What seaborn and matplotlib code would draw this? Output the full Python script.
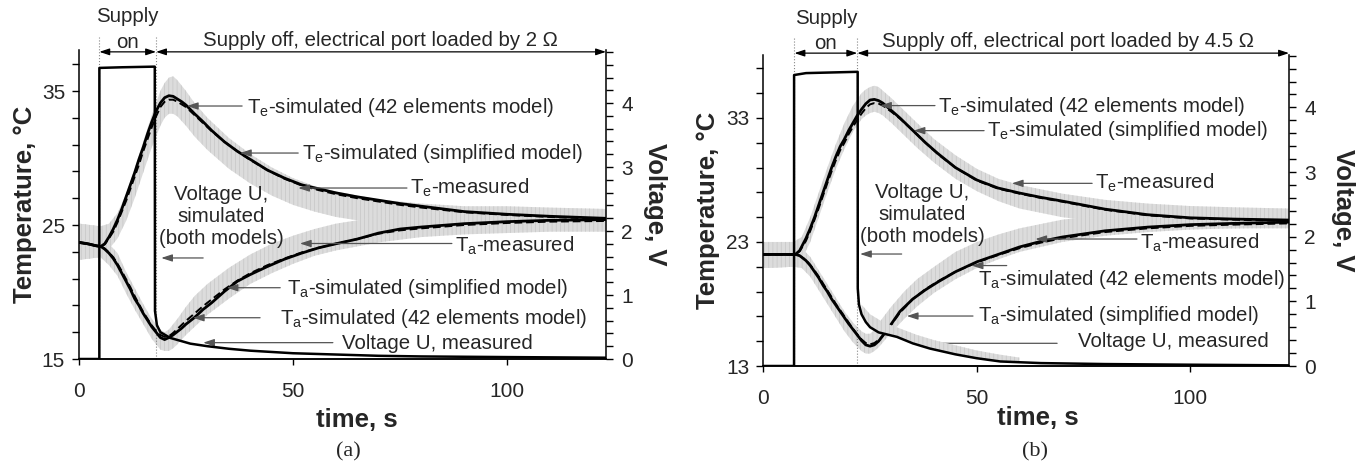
"""
Two-panel thermal transient chart: electrode/ambient temperatures and port voltage.
"""

import matplotlib
matplotlib.use("Agg")
import matplotlib.pyplot as plt
import matplotlib.transforms as mtransforms
from matplotlib.ticker import FixedLocator, MultipleLocator
import seaborn as sns

# ---------------- panel (a): 2 ohm load ----------------
t_sim_a = [0, 2, 4, 5.1, 6, 7, 8, 9, 10, 11, 12, 13, 14, 15, 16, 17, 18, 19, 20, 21,
           22, 23, 24, 25, 27, 29, 31, 34, 37, 40, 44, 48, 52, 56, 60, 65, 70, 75, 80,
           90, 100, 110, 123]
te42_a = [23.7, 23.6, 23.45, 23.4, 23.6, 24.1, 24.7, 25.4, 26.2, 27.1, 28.0, 28.9, 29.9,
          30.8, 31.8, 32.7, 33.5, 34.1, 34.5, 34.65, 34.6, 34.4, 34.2, 33.95, 33.3, 32.7,
          32.05, 31.2, 30.5, 29.9, 29.1, 28.5, 28.0, 27.7, 27.4, 27.1, 26.85, 26.6, 26.4,
          26.0, 25.8, 25.65, 25.5]
tesimp_a = [23.7, 23.6, 23.45, 23.4, 23.55, 24.0, 24.5, 25.2, 26.0, 26.8, 27.7, 28.6, 29.5,
            30.5, 31.4, 32.3, 33.1, 33.8, 34.2, 34.35, 34.35, 34.2, 34.0, 33.8, 33.2, 32.6,
            32.0, 31.2, 30.5, 29.85, 29.1, 28.45, 27.95, 27.6, 27.3, 27.0, 26.75, 26.5,
            26.3, 25.95, 25.75, 25.6, 25.45]
ta42_a = [23.7, 23.6, 23.45, 23.4, 23.2, 22.9, 22.5, 22.0, 21.4, 20.8, 20.2, 19.5, 19.0,
          18.4, 17.9, 17.4, 17.0, 16.6, 16.45, 16.6, 16.8, 17.05, 17.3, 17.6, 18.1, 18.7,
          19.2, 20.05, 20.8, 21.3, 21.9, 22.45, 22.9, 23.3, 23.6, 23.95, 24.4, 24.7, 24.85,
          25.1, 25.25, 25.35, 25.4]
tasimp_a = [23.7, 23.6, 23.45, 23.4, 23.25, 22.95, 22.6, 22.1, 21.55, 20.95, 20.35, 19.7,
            19.1, 18.5, 18.0, 17.5, 17.1, 16.8, 16.65, 16.7, 16.95, 17.25, 17.55, 17.85,
            18.4, 18.95, 19.45, 20.2, 20.85, 21.4, 22.0, 22.5, 22.95, 23.3, 23.6, 23.95,
            24.35, 24.6, 24.75, 25.0, 25.15, 25.25, 25.3]

t_meas_a = [0, 5, 7, 9, 11, 13, 15, 17, 19, 20, 21, 22, 23, 25, 27, 30, 35, 40, 45, 50,
            55, 60, 70, 80, 90, 100, 110, 123]
te_lo_a = [22.4, 22.6, 23.2, 24.0, 25.3, 27.0, 28.9, 30.8, 32.4, 33.0, 33.3, 33.3, 33.1,
           32.4, 31.6, 30.6, 29.2, 28.1, 27.2, 26.5, 26.0, 25.6, 25.1, 24.9, 24.8, 24.7,
           24.7, 24.7]
te_hi_a = [25.1, 24.9, 25.1, 25.9, 27.3, 29.2, 31.2, 33.2, 35.0, 35.6, 36.0, 36.1, 35.8,
           35.0, 34.1, 33.0, 31.5, 30.3, 29.3, 28.5, 27.9, 27.5, 26.9, 26.6, 26.4, 26.4,
           26.3, 26.2]
ta_lo_a = [22.4, 22.6, 22.0, 21.2, 19.9, 18.7, 17.6, 16.5, 15.7, 15.6, 15.6, 15.8, 16.1,
           16.8, 17.4, 18.3, 19.5, 20.6, 21.4, 22.1, 22.7, 23.1, 23.7, 24.1, 24.3, 24.4,
           24.5, 24.5]
ta_hi_a = [25.1, 24.9, 23.6, 22.9, 21.5, 20.3, 19.1, 18.0, 17.2, 17.0, 17.2, 17.6, 18.0,
           18.9, 19.7, 20.6, 21.8, 22.8, 23.6, 24.2, 24.7, 25.1, 25.6, 25.9, 26.0, 26.1,
           26.1, 26.1]

t_volt_a = [0, 4.75, 4.76, 10, 17.7, 17.75, 18.2, 19, 21.3, 26, 30, 35, 40, 50, 60, 70,
            80, 100, 123]
volt_a = [0, 0, 4.55, 4.56, 4.57, 0.75, 0.53, 0.42, 0.33, 0.24, 0.2, 0.16, 0.13, 0.09,
          0.07, 0.05, 0.04, 0.03, 0.02]

# ---------------- panel (b): 4.5 ohm load ----------------
t_sim_b = [0, 4, 7.5, 8.5, 10, 11, 12, 13, 14, 15, 16, 17, 18, 19, 20, 21, 22, 23, 24, 25,
           26, 27, 28, 30, 32, 35, 38, 41, 45, 50, 55, 60, 65, 70, 80, 90, 100, 110, 123]
te42_b = [22.0, 22.0, 22.0, 22.3, 23.3, 24.1, 25.0, 26.0, 27.0, 28.0, 29.0, 29.9, 30.7,
          31.3, 32.0, 32.6, 33.2, 33.7, 34.15, 34.45, 34.5, 34.4, 34.2, 33.6, 33.0, 32.0,
          31.0, 30.1, 29.0, 28.0, 27.35, 26.95, 26.6, 26.3, 25.65, 25.2, 24.95, 24.85, 24.77]
tesimp_b = [22.0, 22.0, 22.0, 22.25, 23.1, 23.9, 24.8, 25.75, 26.75, 27.75, 28.7, 29.6,
            30.4, 31.0, 31.7, 32.3, 32.85, 33.35, 33.8, 34.1, 34.2, 34.15, 34.0, 33.5,
            32.95, 32.0, 31.0, 30.05, 29.0, 27.95, 27.3, 26.9, 26.55, 26.25, 25.6, 25.15,
            24.9, 24.8, 24.7]
ta42_b = [22.0, 22.0, 22.0, 21.9, 21.5, 21.1, 20.6, 20.1, 19.5, 19.0, 18.4, 17.9, 17.4,
          16.9, 16.4, 15.95, 15.5, 15.05, 14.7, 14.6, 14.7, 15.0, 15.45, 16.4, 17.4, 18.4,
          19.15, 19.8, 20.6, 21.4, 22.0, 22.6, 23.05, 23.4, 23.9, 24.2, 24.4, 24.5, 24.6]
tasimp_b = [22.0, 22.0, 22.0, 21.9, 21.55, 21.15, 20.7, 20.2, 19.65, 19.1, 18.55, 18.0,
            17.5, 17.0, 16.5, 16.0, 15.55, 15.15, 14.85, 14.75, 14.85, 15.1, 15.45, 16.35,
            17.3, 18.4, 19.2, 19.85, 20.6, 21.35, 21.95, 22.5, 22.95, 23.3, 23.8, 24.1,
            24.3, 24.4, 24.5]

t_meas_b = [0, 7, 9, 11, 13, 15, 17, 19, 21, 23, 24, 25, 26, 27, 28, 30, 33, 36, 40, 45,
            50, 55, 60, 70, 80, 90, 100, 110, 123]
te_lo_b = [20.9, 21.0, 21.6, 23.0, 25.0, 27.0, 28.9, 30.5, 31.9, 32.9, 33.2, 33.4, 33.5,
           33.4, 33.2, 32.6, 31.6, 30.6, 29.4, 28.1, 27.1, 26.3, 25.7, 25.0, 24.6, 24.3,
           24.2, 24.1, 24.1]
te_hi_b = [23.0, 23.0, 23.4, 25.0, 27.0, 29.0, 30.9, 32.6, 34.0, 35.0, 35.3, 35.5, 35.6,
           35.5, 35.2, 34.6, 33.6, 32.6, 31.3, 30.0, 28.9, 28.1, 27.6, 26.9, 26.4, 26.1,
           25.9, 25.8, 25.7]
ta_lo_b = [20.9, 21.0, 20.9, 20.2, 19.1, 18.0, 16.9, 15.8, 14.9, 14.2, 14.0, 14.0, 14.2,
           14.5, 14.9, 15.7, 16.8, 17.8, 18.9, 20.0, 20.9, 21.6, 22.2, 23.0, 23.5, 23.8,
           24.0, 24.1, 24.2]
ta_hi_b = [23.0, 23.0, 22.5, 21.8, 20.7, 19.6, 18.5, 17.4, 16.5, 15.8, 15.6, 15.6, 15.9,
           16.4, 16.9, 17.8, 19.0, 20.0, 21.0, 22.2, 23.0, 23.6, 24.1, 24.8, 25.2, 25.4,
           25.5, 25.6, 25.6]

t_volt_b = [0, 7.2, 7.21, 10, 22.1, 22.12, 22.4, 23, 24, 25, 27, 31.3, 35, 39, 45, 50,
            55.5, 65, 80, 100, 123]
volt_b = [0, 0, 4.5, 4.53, 4.55, 1.2, 0.95, 0.8, 0.68, 0.6, 0.52, 0.45, 0.35, 0.27, 0.18,
          0.12, 0.07, 0.045, 0.03, 0.02, 0.01]
t_vmeas_b = [23, 25, 28, 32, 36, 40, 45, 50, 55, 60]
v_lo_b = [0.8, 0.6, 0.5, 0.44, 0.34, 0.26, 0.18, 0.12, 0.08, 0.06]
v_hi_b = [0.95, 0.8, 0.68, 0.58, 0.48, 0.4, 0.32, 0.24, 0.18, 0.13]

sns.set_theme(style="ticks")
plt.rcParams["font.family"] = ["Liberation Sans", "DejaVu Sans"]
plt.rcParams["mathtext.fontset"] = "custom"
plt.rcParams["mathtext.rm"] = "Liberation Sans"
plt.rcParams["mathtext.default"] = "regular"
plt.rcParams["hatch.linewidth"] = 0.5

BAND = "#dcdcdc"
HATCH = "#c6c6c6"
TXT = 14.7


def band(ax, t, lo, hi):
    ax.fill_between(t, lo, hi, facecolor=BAND, edgecolor=HATCH, hatch="||||",
                    linewidth=0, zorder=1)


def note(ax, text, xy_text, start, tip, ha="left"):
    ax.text(xy_text[0], xy_text[1], text, ha=ha, va="center", fontsize=TXT,
            linespacing=1.2, zorder=5)
    ax.annotate("", xy=tip, xytext=start,
                arrowprops=dict(arrowstyle="-|>,head_length=0.55,head_width=0.18",
                                color="#555555", lw=0.9, shrinkA=0, shrinkB=0,
                                mutation_scale=12), zorder=5)


def panel(ax, d, ylim, ymaj, vtop, switch, load, supply_pos, notes, label_pos, vband=None):
    band(ax, d["tm"], d["te_lo"], d["te_hi"])
    band(ax, d["tm"], d["ta_lo"], d["ta_hi"])
    for y, ls, lw in [(d["te42"], "-", 2.0), (d["ta42"], "-", 2.0),
                      (d["tesimp"], (0, (4, 2)), 1.4), (d["tasimp"], (0, (4, 2)), 1.4)]:
        sns.lineplot(x=d["ts"], y=y, ax=ax, color="black", lw=lw, linestyle=ls,
                     estimator=None, sort=False, zorder=3)
    ax.set_xlim(0, 123.1)
    ax.set_ylim(*ylim)
    ax.set_xticks([0, 50, 100])
    ax.set_yticks(ymaj)
    ax.yaxis.set_minor_locator(FixedLocator(list(range(ymaj[0], int(ylim[1]) + 1, 2))))

    ax2 = ax.twinx()
    if vband is not None:
        ax2.fill_between(vband[0], vband[1], vband[2], facecolor=BAND, edgecolor=HATCH,
                         hatch="||||", linewidth=0, zorder=1)
    sns.lineplot(x=d["tv"], y=d["v"], ax=ax2, color="black", lw=1.8,
                 estimator=None, sort=False, zorder=3)
    ax2.set_ylim(0, vtop)
    ax2.set_yticks([0, 1, 2, 3, 4])
    ax2.yaxis.set_minor_locator(MultipleLocator(0.2))

    for a in (ax, ax2):
        a.spines["top"].set_visible(False)
        for s in a.spines.values():
            s.set_linewidth(1.1)
            s.set_color("black")
    ax2.spines["left"].set_visible(False)
    ax.spines["right"].set_visible(False)
    ax.tick_params(axis="y", which="both", direction="out", length=5, width=1,
                   labelsize=15, pad=5, color="black")
    ax.tick_params(axis="x", which="both", direction="out", length=4.5, width=1,
                   labelsize=15, pad=12, color="black")
    ax2.tick_params(axis="y", which="both", direction="out", length=5, width=1,
                    labelsize=15, pad=6, color="black")

    ax.set_xlabel("time, s", fontsize=18.5, fontweight="bold")
    ax.set_ylabel("Temperature, °C", fontsize=18.5, fontweight="bold")
    ax2.set_ylabel("Voltage, V", fontsize=18.5, fontweight="bold", rotation=-90)
    ax.xaxis.set_label_coords(label_pos[0], label_pos[1])
    ax.xaxis.label.set_va("center")
    ax.yaxis.set_label_coords(label_pos[2], 0.5)
    ax.yaxis.label.set_va("center")
    ax2.yaxis.set_label_coords(label_pos[3], 0.5)
    ax2.yaxis.label.set_va("center")

    # supply on / off markers above the plot
    tr = mtransforms.blended_transform_factory(ax.transData, ax.transAxes)
    for t in switch:
        ax.plot([t, t], [0, supply_pos[4]], transform=tr, ls=":", lw=0.8,
                color="#888888", clip_on=False, zorder=2)
    arr = dict(arrowstyle="<|-|>,head_length=0.6,head_width=0.2", color="black",
               lw=0.9, shrinkA=0, shrinkB=0, mutation_scale=10)
    ya = supply_pos[3]
    ax.annotate("", xy=(switch[0], ya), xytext=(switch[1], ya), xycoords=tr,
                textcoords=tr, arrowprops=arr, annotation_clip=False)
    ax.annotate("", xy=(switch[1], ya), xytext=(123.1, ya), xycoords=tr,
                textcoords=tr, arrowprops=arr, annotation_clip=False)
    mid = (switch[0] + switch[1]) / 2
    ax.text(mid, supply_pos[0], "Supply", transform=tr, ha="center", va="center",
            fontsize=TXT)
    ax.text(mid, supply_pos[1], "on", transform=tr, ha="center", va="center",
            fontsize=TXT)
    ax.text(supply_pos[5], supply_pos[2], f"Supply off, electrical port loaded by {load} Ω",
            transform=tr, ha="center", va="center", fontsize=TXT)

    for n in notes:
        note(ax, *n)
    return ax2


fig = plt.figure(figsize=(13.67, 4.73), dpi=100)
ax_a = fig.add_axes([79 / 1367, 114 / 473, 527 / 1367, 309 / 473])
ax_b = fig.add_axes([763.3 / 1367, 107 / 473, 525.7 / 1367, 311 / 473])

data_a = dict(ts=t_sim_a, te42=te42_a, tesimp=tesimp_a, ta42=ta42_a, tasimp=tasimp_a,
              tm=t_meas_a, te_lo=te_lo_a, te_hi=te_hi_a, ta_lo=ta_lo_a, ta_hi=ta_hi_a,
              tv=t_volt_a, v=volt_a)
data_b = dict(ts=t_sim_b, te42=te42_b, tesimp=tesimp_b, ta42=ta42_b, tasimp=tasimp_b,
              tm=t_meas_b, te_lo=te_lo_b, te_hi=te_hi_b, ta_lo=ta_lo_b, ta_hi=ta_hi_b,
              tv=t_volt_b, v=volt_b)

notes_a = [
    ("T$_e$-simulated (42 elements model)", (39.3, 33.8), (38.1, 33.88), (25.2, 33.88)),
    ("T$_e$-simulated (simplified model)", (52.1, 30.37), (51.2, 30.37), (37.6, 30.37)),
    ("T$_e$-measured", (77.3, 27.76), (76.6, 27.76), (51.2, 27.76)),
    ("Voltage U,\nsimulated\n(both models)", (33.2, 25.67), (29.0, 22.54), (19.2, 22.54),
     "center"),
    ("T$_a$-measured", (87.9, 23.45), (87.1, 23.62), (51.6, 23.62)),
    ("T$_a$-simulated (simplified model)", (48.6, 20.28), (47.0, 20.32), (34.5, 20.32)),
    ("T$_a$-simulated (42 elements model)", (47.0, 18.04), (42.3, 18.08), (26.6, 18.08)),
    ("Voltage U, measured", (61.4, 16.17), (59.3, 16.22), (29.0, 16.22)),
]
notes_b = [
    ("T$_e$-simulated (42 elements model)", (41.0, 33.91), (40.2, 34.0), (27.35, 34.0)),
    ("T$_e$-simulated (simplified model)", (52.4, 32.03), (51.7, 31.98), (35.2, 31.98)),
    ("T$_e$-measured", (77.7, 27.73), (77.0, 27.73), (58.2, 27.73)),
    ("Voltage U,\nsimulated\n(both models)", (37.3, 25.18), (32.4, 22.03), (22.65, 22.03),
     "center"),
    ("T$_a$-measured", (88.3, 22.9), (87.5, 23.24), (63.7, 23.24)),
    ("T$_a$-simulated (42 elements model)", (50.3, 19.94), (57.0, 21.1), (48.8, 21.1)),
    ("T$_a$-simulated (simplified model)", (50.3, 17.11), (49.1, 17.03), (33.6, 17.03)),
    ("Voltage U, measured", (73.7, 14.96), (68.8, 14.83), (35.55, 14.83)),
]

panel(ax_a, data_a, (15, 38.06), [15, 25, 35], 4.83, (4.75, 18.0), "2",
      (1.107, 1.023, 1.032, 0.994, 1.042, 70.3), notes_a, (0.527, -0.197, -0.1025, 1.093))
panel(ax_b, data_b, (13, 38.08), [13, 23, 33], 4.81, (7.3, 22.0), "4.5",
      (1.118, 1.038, 1.043, 1.006, 1.055, 71.4), notes_b, (0.5225, -0.167, -0.105, 1.103),
      vband=(t_vmeas_b, v_lo_b, v_hi_b))

fig.text(348 / 1367, 1 - 451.7 / 473, "(a)", ha="center", va="center", fontsize=16,
         family="Liberation Serif")
fig.text(1035 / 1367, 1 - 451.7 / 473, "(b)", ha="center", va="center", fontsize=16,
         family="Liberation Serif")

fig.savefig("out.png", dpi=100)
